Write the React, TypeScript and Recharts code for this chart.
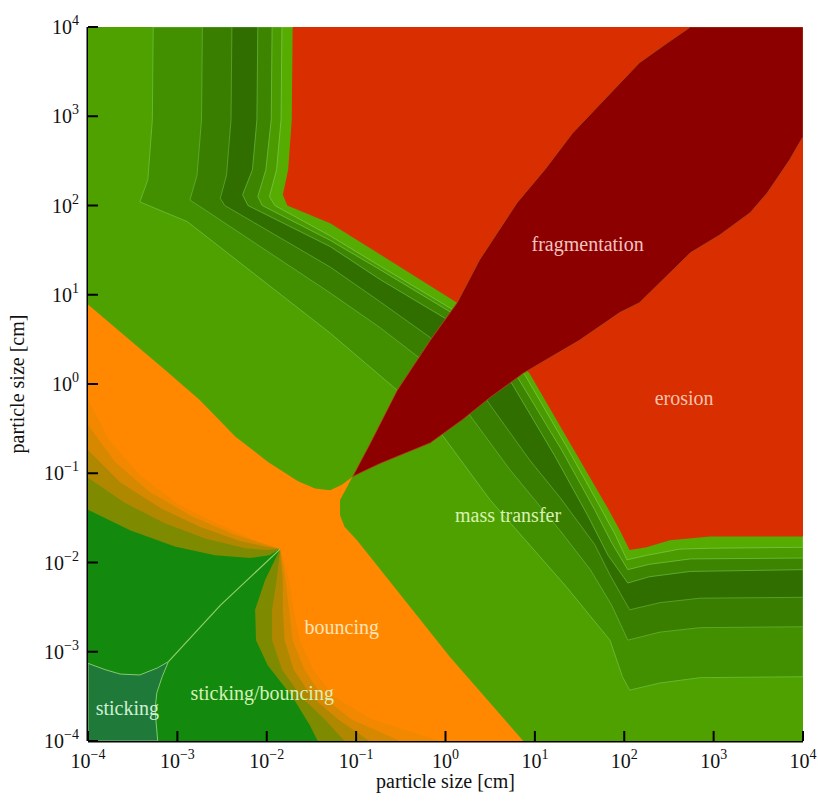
import { ScatterChart, Scatter, XAxis, YAxis } from 'recharts'

const SERIF = '"Liberation Serif", "DejaVu Serif", serif'

// decades on both axes (log10 of particle size in cm)
const ticks = [-4, -3, -2, -1, 0, 1, 2, 3, 4]

// region outlines, [log10 size1, log10 size2]
const massTransfer = [[-4, -4], [-4, 4], [4, 4], [4, -4]]

const stripeA = [[-3.27, 4], [-3.28, 2.96], [-3.33, 2.29], [-3.42, 2.04], [-2.89, 1.82], [-1.29, 0.57], [-0.54, -0.07], [-0.06, -0.54], [0.5, -1.3], [1.35, -2.27], [1.84, -2.87], [1.98, -3.28], [2.06, -3.43], [2.4, -3.35], [2.85, -3.29], [4, -3.28], [4, 4]]
const stripeB = [[-2.72, 4], [-2.73, 2.96], [-2.78, 2.34], [-2.86, 2.06], [-2.75, 1.99], [-1.29, 1.02], [-0.73, 0.63], [-0.29, 0.29], [0.25, -0.32], [0.72, -0.96], [1.28, -1.64], [1.62, -2.08], [1.86, -2.48], [2.04, -2.87], [2.4, -2.78], [2.85, -2.73], [4, -2.72], [4, 4]]
const stripeC = [[-2.39, 4], [-2.4, 2.96], [-2.45, 2.34], [-2.52, 2.08], [-2.47, 2.0], [-1.29, 1.31], [-0.73, 0.92], [-0.17, 0.52], [0.46, -0.18], [0.94, -0.85], [1.28, -1.27], [1.67, -1.8], [1.84, -2.14], [2.06, -2.53], [2.4, -2.45], [2.85, -2.4], [4, -2.39], [4, 4]]
const stripeD = [[-2.1, 4], [-2.11, 2.96], [-2.16, 2.4], [-2.27, 2.12], [-2.21, 2.0], [-1.29, 1.54], [-0.73, 1.17], [-0.01, 0.74], [0.74, 0.01], [1.22, -0.8], [1.59, -1.47], [1.82, -1.92], [2.04, -2.23], [2.28, -2.16], [2.74, -2.1], [4, -2.08], [4, 4]]
const stripeE = [[-1.94, 4], [-1.95, 2.96], [-2.01, 2.4], [-2.1, 2.1], [-2.05, 2.0], [-1.29, 1.61], [-0.73, 1.28], [0.05, 0.81], [0.81, 0.07], [1.3, -0.74], [1.67, -1.41], [1.86, -1.78], [2.04, -2.08], [2.28, -2.02], [2.74, -1.96], [4, -1.95], [4, 4]]
const stripeF = [[-1.83, 4], [-1.84, 2.96], [-1.89, 2.4], [-1.97, 2.1], [-1.91, 2.0], [-1.29, 1.66], [-0.73, 1.32], [0.07, 0.84], [0.89, 0.1], [1.36, -0.71], [1.72, -1.36], [1.9, -1.69], [2.03, -1.97], [2.25, -1.92], [2.62, -1.85], [2.96, -1.84], [4, -1.83], [4, 4]]
const erosion = [[-1.71, 4], [-1.72, 2.96], [-1.76, 2.4], [-1.82, 2.12], [-1.77, 2.0], [-1.29, 1.8], [-0.73, 1.45], [0.13, 0.91], [0.94, 0.12], [1.42, -0.71], [1.81, -1.38], [1.95, -1.64], [2.06, -1.86], [2.25, -1.83], [2.51, -1.75], [2.96, -1.71], [4, -1.71], [4, 4]]

const fragmentation = [[-1.04, -1.04], [-0.94, -0.85], [-0.85, -0.68], [-0.54, -0.07], [-0.17, 0.49], [0.13, 0.91], [0.38, 1.39], [0.8, 2.03], [1.11, 2.4], [1.42, 2.81], [1.81, 3.22], [2.17, 3.6], [2.48, 3.82], [2.74, 4], [4, 4], [4, 2.77], [3.85, 2.51], [3.6, 2.14], [3.41, 1.92], [3.07, 1.67], [2.74, 1.47], [2.17, 0.91], [1.95, 0.8], [1.5, 0.49], [0.87, 0.12], [0.5, -0.15], [0.19, -0.4], [-0.17, -0.66], [-0.73, -0.89], [-0.94, -0.99]]

const bouncing = [[-4, 0.89], [-3.53, 0.49], [-3.14, 0.16], [-2.75, -0.18], [-2.35, -0.59], [-1.99, -0.87], [-1.65, -1.09], [-1.46, -1.17], [-1.29, -1.19], [-1.16, -1.13], [-1.04, -1.04], [-1.1, -1.15], [-1.18, -1.3], [-1.18, -1.47], [-1.13, -1.6], [-0.99, -1.75], [0.05, -3.06], [0.87, -4], [-4, -4]]

const band0 = [[-4, -0.18], [-3.76, -0.63], [-3.42, -1.02], [-2.97, -1.36], [-2.52, -1.58], [-2.13, -1.75], [-1.85, -1.85], [-1.75, -2.2], [-1.7, -2.53], [-1.63, -2.87], [-1.48, -3.2], [-1.24, -3.51], [-0.82, -3.76], [-0.06, -4], [-4, -4]]
const band1 = [[-4, -0.46], [-3.7, -0.87], [-3.31, -1.21], [-2.86, -1.47], [-2.41, -1.67], [-2.08, -1.78], [-1.85, -1.85], [-1.79, -2.2], [-1.75, -2.53], [-1.71, -2.87], [-1.58, -3.2], [-1.37, -3.51], [-1.05, -3.76], [-0.51, -4], [-4, -4]]
const band2 = [[-4, -0.74], [-3.64, -1.1], [-3.19, -1.39], [-2.75, -1.6], [-2.3, -1.76], [-2.02, -1.82], [-1.85, -1.85], [-1.82, -2.2], [-1.82, -2.53], [-1.8, -2.87], [-1.7, -3.2], [-1.49, -3.51], [-1.2, -3.76], [-0.85, -4], [-4, -4]]
const band3 = [[-4, -1.05], [-3.59, -1.33], [-3.14, -1.56], [-2.69, -1.73], [-2.24, -1.84], [-1.99, -1.86], [-1.85, -1.85], [-1.89, -2.2], [-1.94, -2.53], [-1.94, -2.87], [-1.83, -3.2], [-1.61, -3.51], [-1.35, -3.76], [-1.13, -4], [-4, -4]]
const stickBounce = [[-4, -1.41], [-3.53, -1.64], [-3.03, -1.82], [-2.58, -1.92], [-2.19, -1.95], [-1.97, -1.92], [-1.85, -1.85], [-2.02, -2.2], [-2.13, -2.53], [-2.12, -2.87], [-1.99, -3.15], [-1.71, -3.51], [-1.52, -3.82], [-1.43, -4], [-4, -4]]
const sticking = [[-4, -3.13], [-3.81, -3.2], [-3.64, -3.25], [-3.42, -3.26], [-3.22, -3.18], [-3.1, -3.11], [-3.17, -3.28], [-3.23, -3.46], [-3.25, -3.65], [-3.22, -4], [-4, -4]]
const ridge = [[-3.1, -3.11], [-2.52, -2.48], [-1.85, -1.85]]

const labelNames = ['fragmentation', 'erosion', 'mass transfer', 'bouncing', 'sticking/bouncing', 'sticking']
const labelX = [1.59, 2.67, 0.7, -1.16, -2.05, -3.56]
const labelY = [1.57, -0.16, -1.47, -2.72, -3.46, -3.63]

const labelColors: Record<string, string> = {
  fragmentation: '#f2c4c0',
  erosion: '#f6c2ae',
  'mass transfer': '#d8f2b4',
  bouncing: '#ffe4b8',
  'sticking/bouncing': '#d6f0b8',
  sticking: '#d0f0d4',
}

const layers = [
  { id: 'mass', pts: massTransfer, fill: '#4fa100', stroke: 'none', sw: 0 },
  { id: 'a', pts: stripeA, fill: '#428f00', stroke: '#6cc03c', sw: 0.8 },
  { id: 'b', pts: stripeB, fill: '#3a7e00', stroke: '#62b035', sw: 0.8 },
  { id: 'c', pts: stripeC, fill: '#316e00', stroke: '#5ea832', sw: 0.8 },
  { id: 'd', pts: stripeD, fill: '#3d8400', stroke: '#66b43a', sw: 0.8 },
  { id: 'e', pts: stripeE, fill: '#4a9a00', stroke: '#70c040', sw: 0.8 },
  { id: 'f', pts: stripeF, fill: '#56ac00', stroke: '#78c848', sw: 0.8 },
  { id: 'erosion', pts: erosion, fill: '#d92e00', stroke: 'none', sw: 0 },
  { id: 'frag', pts: fragmentation, fill: '#8c0000', stroke: '#b04a1a', sw: 0.8 },
  { id: 'bounce', pts: bouncing, fill: '#ff8800', stroke: 'none', sw: 0 },
  { id: 'b0', pts: band0, fill: '#f18800', stroke: 'none', sw: 0 },
  { id: 'b1', pts: band1, fill: '#d68800', stroke: 'none', sw: 0 },
  { id: 'b2', pts: band2, fill: '#b08800', stroke: 'none', sw: 0 },
  { id: 'b3', pts: band3, fill: '#7e8a00', stroke: 'none', sw: 0 },
  { id: 'sb', pts: stickBounce, fill: '#138a0e', stroke: 'none', sw: 0 },
  { id: 'stick', pts: sticking, fill: '#1f7a3a', stroke: '#86c870', sw: 1 },
]

const toPoints = (a: number[][]) => a.map(([x, y]) => ({ x, y }))
const labelData = labelNames.map((name, i) => ({ x: labelX[i], y: labelY[i], name }))

const noShape = () => <g />

function expText(v: number) {
  return v < 0 ? '\u2212' + Math.abs(v) : String(v)
}

function BottomTick(props: any) {
  const { x, y, payload } = props
  return (
    <g>
      <line x1={x} y1={y} x2={x} y2={y - 10} stroke="#000" strokeWidth={2} />
      <text x={x} y={y + 27} textAnchor="middle" fontFamily={SERIF} fontSize={20} fill="#111">
        10<tspan dy={-9} fontSize={14}>{expText(payload.value)}</tspan>
      </text>
    </g>
  )
}

function LeftTick(props: any) {
  const { x, y, payload } = props
  return (
    <g>
      <line x1={x} y1={y} x2={x + 10} y2={y} stroke="#000" strokeWidth={2} />
      <text x={x - 9} y={y + 7} textAnchor="end" fontFamily={SERIF} fontSize={20} fill="#111">
        10<tspan dy={-9} fontSize={14}>{expText(payload.value)}</tspan>
      </text>
    </g>
  )
}

function TopTick(props: any) {
  const { x, y } = props
  return <line x1={x} y1={y} x2={x} y2={y + 10} stroke="#000" strokeWidth={2} />
}

function RightTick(props: any) {
  const { x, y } = props
  return <line x1={x} y1={y} x2={x - 10} y2={y} stroke="#000" strokeWidth={2} />
}

function XLabel(props: any) {
  const vb = props.viewBox
  return (
    <text x={vb.x + vb.width / 2} y={vb.y + 47} textAnchor="middle" fontFamily={SERIF} fontSize={20} fill="#111">
      particle size [cm]
    </text>
  )
}

function YLabel(props: any) {
  const vb = props.viewBox
  const cx = vb.x + 24
  const cy = vb.y + vb.height / 2
  return (
    <text x={cx} y={cy} transform={`rotate(-90 ${cx} ${cy})`} textAnchor="middle" fontFamily={SERIF} fontSize={20} fill="#111">
      particle size [cm]
    </text>
  )
}

function RegionLabel(props: any) {
  const { cx, cy, payload } = props
  return (
    <text x={cx} y={cy} textAnchor="middle" dominantBaseline="central" fontFamily={SERIF} fontSize={20} fill={labelColors[payload.name]}>
      {payload.name}
    </text>
  )
}

const frame = { stroke: '#000', strokeWidth: 3 }

export default function App() {
  return (
    <div style={{ position: 'absolute', left: 0, top: 0, width: 818, height: 803, background: '#fff' }}>
      <ScatterChart width={818} height={803} margin={{ top: 27, right: 15, bottom: 0, left: 0 }}>
        <XAxis type="number" dataKey="x" domain={[-4, 4]} ticks={ticks} allowDataOverflow height={62} tickSize={0} tickMargin={0} interval={0} tick={BottomTick} tickLine={false} axisLine={frame} label={XLabel} />
        <XAxis xAxisId="top" orientation="top" type="number" dataKey="x" domain={[-4, 4]} ticks={ticks} allowDataOverflow height={0} tickSize={0} tickMargin={0} interval={0} tick={TopTick} tickLine={false} axisLine={frame} />
        <YAxis type="number" dataKey="y" domain={[-4, 4]} ticks={ticks} allowDataOverflow width={88} tickSize={0} tickMargin={0} interval={0} tick={LeftTick} tickLine={false} axisLine={frame} label={YLabel} />
        <YAxis yAxisId="right" orientation="right" type="number" dataKey="y" domain={[-4, 4]} ticks={ticks} allowDataOverflow width={0} tickSize={0} tickMargin={0} interval={0} tick={RightTick} tickLine={false} axisLine={frame} />
        {layers.map((l) => (
          <Scatter
            key={l.id}
            data={toPoints(l.pts)}
            fill={l.fill}
            line={{ fill: l.fill, stroke: l.stroke, strokeWidth: l.sw }}
            lineJointType="linearClosed"
            shape={noShape}
            legendType="none"
            isAnimationActive={false}
          />
        ))}
        <Scatter
          data={toPoints(ridge)}
          fill="#8fd06a"
          line={{ fill: 'none', stroke: '#8fd06a', strokeWidth: 1.2 }}
          lineJointType="linear"
          shape={noShape}
          legendType="none"
          isAnimationActive={false}
        />
        <Scatter data={labelData} shape={RegionLabel} legendType="none" isAnimationActive={false} />
      </ScatterChart>
    </div>
  )
}
